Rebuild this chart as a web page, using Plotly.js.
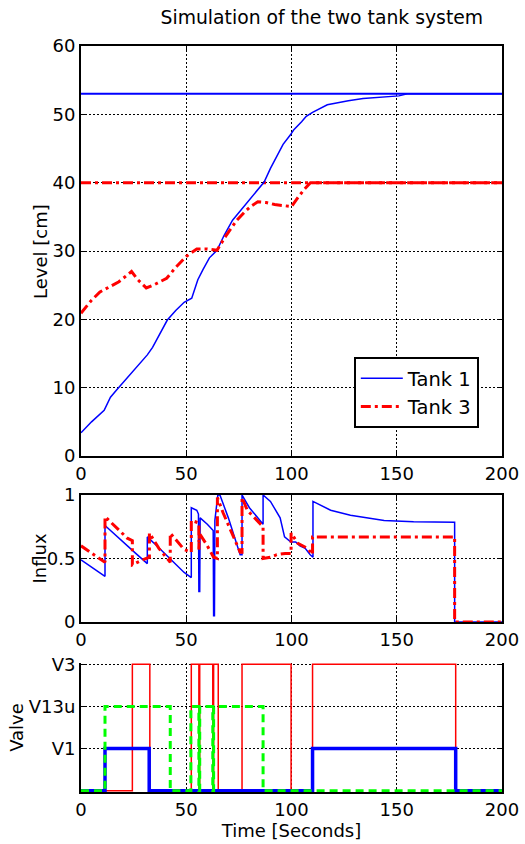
<!DOCTYPE html>
<html>
<head>
<meta charset="utf-8">
<script src="https://cdn.plot.ly/plotly-3.0.1.min.js"></script>
<style>html,body{margin:0;padding:0;background:#fff;}#chart{width:525px;height:844px;}</style>
</head>
<body>
<div id="chart"></div>
<script>
// ---- Level panel ----
var setT = [0, 200];
var setTank1 = [53, 53];
var setTank3 = [40, 40];

var tLevel1 = [0, 5, 11, 14, 17, 21, 24, 28, 31.5, 34, 36, 41, 45, 49, 52.6, 55.5, 58, 61, 64.6, 68, 72, 76, 80.4, 84, 87, 90, 93.6, 96, 99.5, 101, 104.8, 107, 110, 114, 117, 122, 127, 134, 141, 151, 155, 200];
var level1 = [3.4, 5, 6.7, 8.6, 9.7, 11.1, 12.1, 13.6, 14.8, 15.9, 17, 19.9, 21.3, 22.5, 23.1, 25.8, 27.3, 29, 30.1, 32.3, 34.5, 36, 37.5, 39, 40.1, 42.1, 44.3, 45.6, 47, 47.7, 48.9, 49.7, 50.3, 50.9, 51.4, 51.7, 52, 52.3, 52.5, 52.7, 53, 53];

var tLevel3 = [0, 5, 9, 13.4, 18, 24, 27, 31, 35, 40.7, 45, 50, 55, 60, 64.6, 69, 74, 78, 81, 84, 88, 92, 96, 100, 103, 106, 109, 200];
var level3 = [20.9, 22.8, 24, 24.7, 25.5, 27, 25.8, 24.6, 25.1, 26, 27.6, 29.2, 30.3, 30.3, 30.1, 32.3, 34.5, 35.8, 36.6, 37.2, 37.1, 36.8, 36.7, 36.5, 37.8, 39, 40, 40];

// ---- Influx panel ----
var tInflux1 = [0, 11.4, 11.4, 14, 20, 26, 31.5, 31.5, 36, 42, 49, 52.4, 52.4, 55, 55.8, 56.0, 56.4, 56.6, 60, 62.8, 63.0, 63.4, 63.6, 65, 66, 70, 73, 75.6, 76.5, 76.5, 80, 85, 86.5, 86.5, 90, 94.6, 96.7, 99.7, 102, 104, 106.5, 108.9, 110.2, 110.2, 114, 118.6, 128, 136, 144, 158, 177.5, 177.5, 200];
var influx1 = [0.49, 0.36, 0.76, 0.72, 0.63, 0.54, 0.46, 0.67, 0.6, 0.5, 0.39, 0.35, 0.9, 0.88, 0.85, 0.24, 0.24, 0.82, 0.77, 0.72, 0.05, 0.05, 0.8, 1.0, 1.0, 0.82, 0.67, 0.53, 0.53, 1.0, 0.9, 0.8, 0.77, 1.0, 0.95, 0.82, 0.67, 0.63, 0.63, 0.6, 0.58, 0.53, 0.51, 0.95, 0.92, 0.88, 0.84, 0.82, 0.8, 0.79, 0.785, 0, 0];

var tInflux3 = [0, 5, 11.4, 11.4, 15, 18, 22, 24.4, 24.4, 28, 32.5, 32.5, 37, 42.4, 42.4, 45, 49, 52.4, 52.4, 56, 56, 56.2, 56.2, 60, 63, 64.8, 64.8, 67.5, 72, 75.6, 76.5, 76.5, 79, 84, 86.5, 86.5, 90, 93, 97, 99.8, 99.8, 103, 107.6, 110, 110, 177.5, 177.5, 200];
var influx3 = [0.6, 0.54, 0.47, 0.83, 0.77, 0.72, 0.66, 0.64, 0.45, 0.48, 0.51, 0.7, 0.58, 0.47, 0.7, 0.65, 0.57, 0.55, 0.8, 0.78, 0.57, 0.57, 0.7, 0.6, 0.51, 0.5, 0.98, 0.86, 0.69, 0.55, 0.55, 0.98, 0.88, 0.79, 0.75, 0.5, 0.51, 0.53, 0.54, 0.54, 0.7, 0.62, 0.58, 0.53, 0.67, 0.67, 0, 0];

// ---- Valve panel (0 = closed, 1 = V1, 2 = V13u, 3 = V3) ----
var valveTickVals = [1, 2, 3];
var valveTickText = ['V1', 'V13u', 'V3'];

var tV3 = [0, 24.4, 24.4, 32.7, 32.7, 52.4, 52.4, 56, 56, 56.4, 56.4, 62.6, 62.6, 63.0, 63.0, 65.2, 65.2, 76.5, 76.5, 99.8, 99.8, 110, 110, 178, 178, 200];
var vV3 = [0, 0, 3, 3, 0, 0, 3, 3, 0, 0, 3, 3, 0, 0, 3, 3, 0, 0, 3, 3, 0, 0, 3, 3, 0, 0];

var tV1 = [0, 11.4, 11.4, 32.4, 32.4, 110, 110, 178, 178, 200];
var vV1 = [0, 0, 1, 1, 0, 0, 1, 1, 0, 0];

var tV13u = [0, 11.4, 11.4, 42.4, 42.4, 52.2, 52.2, 56, 56, 56.4, 56.4, 62.6, 62.6, 63.0, 63.0, 86.5, 86.5, 200];
var vV13u = [0, 0, 2, 2, 0, 0, 2, 2, 0, 0, 2, 2, 0, 0, 2, 2, 0, 0];

var xTicks = [0, 50, 100, 150, 200];

var BLUE = '#0000ff', RED = '#ff0000', GREEN = '#00ff00';
var DASHDOT = '10px,4px,3px,4px';
var GREENDASH = '8px,5px';

var traces = [
  {x: setT, y: setTank1, xaxis: 'x', yaxis: 'y', mode: 'lines', line: {color: BLUE, width: 2}, showlegend: false, hoverinfo: 'skip'},
  {x: setT, y: setTank3, xaxis: 'x', yaxis: 'y', mode: 'lines', line: {color: RED, width: 3, dash: DASHDOT}, showlegend: false, hoverinfo: 'skip'},
  {x: tLevel1, y: level1, xaxis: 'x', yaxis: 'y', mode: 'lines', name: 'Tank 1', line: {color: BLUE, width: 1.5}},
  {x: tLevel3, y: level3, xaxis: 'x', yaxis: 'y', mode: 'lines', name: 'Tank 3', line: {color: RED, width: 3, dash: DASHDOT}},
  {x: tInflux1, y: influx1, xaxis: 'x2', yaxis: 'y2', mode: 'lines', line: {color: BLUE, width: 1.5}, showlegend: false},
  {x: tInflux3, y: influx3, xaxis: 'x2', yaxis: 'y2', mode: 'lines', line: {color: RED, width: 3, dash: DASHDOT}, showlegend: false},
  {x: tV3, y: vV3, xaxis: 'x3', yaxis: 'y3', mode: 'lines', line: {color: RED, width: 1.5}, showlegend: false},
  {x: tV1, y: vV1, xaxis: 'x3', yaxis: 'y3', mode: 'lines', line: {color: BLUE, width: 3.5}, showlegend: false},
  {x: tV13u, y: vV13u, xaxis: 'x3', yaxis: 'y3', mode: 'lines', line: {color: GREEN, width: 3, dash: GREENDASH}, showlegend: false}
];

var FONT = {family: 'DejaVu Sans', size: 18, color: '#000'};

function xAxis(anchor, mirror, extra) {
  var a = {
    anchor: anchor, range: [0, 200], tickvals: xTicks, ticktext: xTicks.map(String),
    ticks: 'inside', ticklen: 5, tickwidth: 1, tickcolor: '#000',
    showline: true, linecolor: '#000', linewidth: 2, mirror: mirror,
    showgrid: true, gridcolor: '#000', gridwidth: 1, griddash: '2px,2px',
    zeroline: false, tickfont: FONT, layer: 'below traces'
  };
  for (var k in extra) a[k] = extra[k];
  return a;
}
function yAxis(anchor, domain, range, tickvals, ticktext, title, extra) {
  var a = {
    anchor: anchor, domain: domain, range: range, tickvals: tickvals, ticktext: ticktext,
    ticks: 'inside', ticklen: 5, tickwidth: 1, tickcolor: '#000',
    showline: true, linecolor: '#000', linewidth: 2, mirror: 'ticks',
    showgrid: true, gridcolor: '#000', gridwidth: 1, griddash: '2px,2px',
    zeroline: false, tickfont: FONT, title: title, layer: 'below traces'
  };
  for (var k in extra) a[k] = extra[k];
  return a;
}

var layout = {
  width: 525, height: 844,
  margin: {l: 81, r: 23, t: 46, b: 52},
  paper_bgcolor: '#fff', plot_bgcolor: '#fff',
  font: FONT,
  title: {text: 'Simulation of the two tank system', font: {family: 'DejaVu Sans', size: 18.8, color: '#000'}, x: 0.613, xanchor: 'center', xref: 'container', y: 0.979, yanchor: 'middle', yref: 'container'},
  showlegend: true,
  legend: {x: 0.648, y: 0.583, xanchor: 'left', yanchor: 'top', bordercolor: '#000', borderwidth: 2, bgcolor: '#fff', itemwidth: 42, font: {family: 'DejaVu Sans', size: 19.5, color: '#000'}},
  xaxis: xAxis('y', 'ticks', {}),
  yaxis: yAxis('x', [0.4504, 1], [0, 60], [0, 10, 20, 30, 40, 50, 60], ['0', '10', '20', '30', '40', '50', '60'], {text: ''}, {}),
  xaxis2: xAxis('y2', 'ticks', {}),
  yaxis2: yAxis('x2', [0.2279, 0.3981], [0, 1], [0, 0.5, 1], ['0', '0.5', '1'], {text: ''}, {}),
  xaxis3: xAxis('y3', false, {title: {text: 'Time [Seconds]', font: FONT, standoff: 4}}),
  yaxis3: yAxis('x3', [0, 0.1729], [-0.03, 3.03], valveTickVals, valveTickText, {text: 'Valve', font: FONT}, {}),
  annotations: [
    {text: 'Level [cm]', xref: 'paper', yref: 'paper', x: -0.0974, y: 0.7252, xanchor: 'center', yanchor: 'middle', textangle: -90, showarrow: false, font: FONT},
    {text: 'Influx', xref: 'paper', yref: 'paper', x: -0.0974, y: 0.313, xanchor: 'center', yanchor: 'middle', textangle: -90, showarrow: false, font: FONT}
  ]
};

Plotly.newPlot('chart', traces, layout, {staticPlot: true, displayModeBar: false});
</script>
</body>
</html>
